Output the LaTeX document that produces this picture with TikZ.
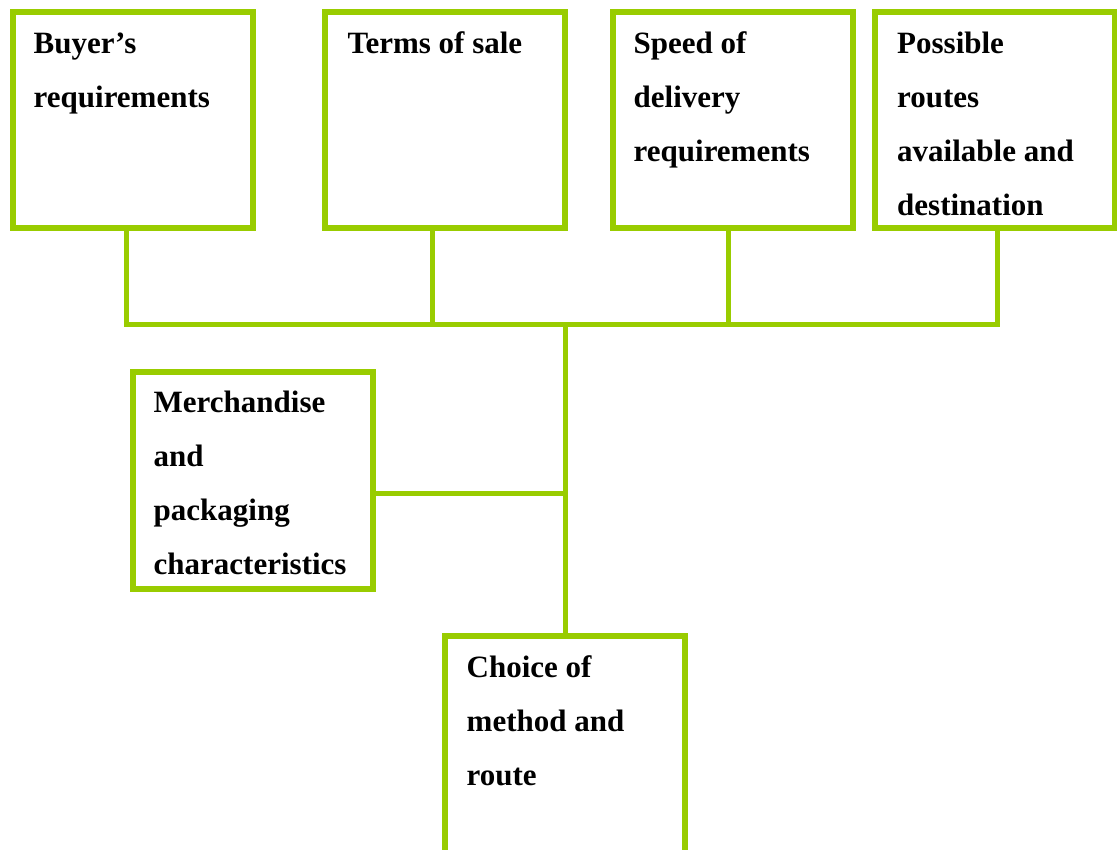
\documentclass[tikz,border=0pt]{standalone}
\usepackage{fontspec}
\setmainfont{Liberation Serif}
\usetikzlibrary{positioning,calc}
\definecolor{leaf}{RGB}{153,204,0}
\tikzset{main node/.style={rectangle,draw=leaf,line width=6pt,minimum width=240pt,minimum height=216pt,inner sep=0pt,outer sep=0pt} }
\tikzset{box text/.style={anchor=base west,align=left,inner sep=0pt,font=\fontsize{31}{54}\selectfont\bfseries} }
\tikzset{wire/.style={draw=leaf,line width=5pt} }

\begin{document}
\begin{tikzpicture}[x=1pt,y=-1pt]
\clip (0,0) rectangle (1117,850);
\fill[white] (0,0) rectangle (1117,850);

  % the four boxes on top
  \node[main node] (1) at (132.5,120.5) {};
  \node[main node] (2) at (444.5,120.5) {};
  \node[main node] (3) at (732.5,120.5) {};
  \node[main node] (4) at (995,120.5) {};

  \node[main node] (5) at (252.5,480.5) {};
  \node[main node, minimum height=224pt] (6) at (564.5,748) {};

  % base of a text is the base of its last line
  \node[box text] (t1) at ($(1.north west)+(21,95)$) {Buyer’s\\requirements};
  \node[box text] (t2) at ($(2.north west)+(23,41)$) {Terms of sale};
  \node[box text] (t3) at ($(3.north west)+(21,149)$) {Speed of\\delivery\\requirements};
  \node[box text] (t4) at ($(4.north west)+(22,203)$) {Possible\\routes\\available and\\destination};
  \node[box text] (t5) at ($(5.north west)+(21,202)$) {Merchandise\\and\\packaging\\characteristics};
  \node[box text] (t6) at ($(6.north west)+(22,149)$) {Choice of\\method and\\route};

  \coordinate (bus) at (565,325);

  % stubs and bus line
  \path[wire]
    ($(1.south)+(-6.5,0)$) edge ($(1.south |- bus)+(-6.5,0)$)
    ($(2.south)+(-12.5,0)$) edge ($(2.south |- bus)+(-12.5,0)$)
    ($(3.south)+(-4.5,0)$) edge ($(3.south |- bus)+(-4.5,0)$)
    ($(4.south)+(2,0)$) edge ($(4.south |- bus)+(2,0)$)
    ;
  \draw[wire, line cap=rect] ($(1.south |- bus)+(-6.5,0)$) -- ($(4.south |- bus)+(2,0)$);
  \path[wire]
    (bus) edge (6.north -| bus)
    ($(5.east)+(0,12.5)$) edge ($(5.east -| bus)+(0,12.5)$)
    ;
\end{tikzpicture}
\end{document}
